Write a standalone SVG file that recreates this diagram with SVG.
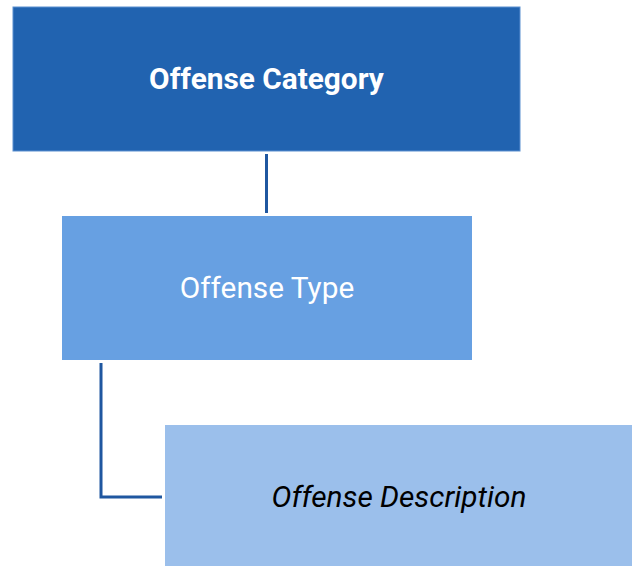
<svg xmlns="http://www.w3.org/2000/svg" width="634" height="566" viewBox="0 0 634 566">
<style>
.lbl{font-family:Roboto,"Liberation Sans",sans-serif;font-size:29.8px;text-anchor:middle;dominant-baseline:central}
.conn{fill:none;stroke:#1f57a0;stroke-width:3}
</style>
<rect width="634" height="566" fill="#ffffff"/>
<g id="connectors">
<line class="conn" x1="266.5" y1="154" x2="266.5" y2="213"/>
<polyline class="conn" points="101,363 101,497 162,497"/>
</g>
<g id="offense-category">
<rect x="13" y="7" width="507" height="144" fill="#2163b0" stroke="#5a8fd0" stroke-width="1"/>
<text class="lbl" x="266.5" y="78" fill="#ffffff" font-weight="bold">Offense Category</text>
</g>
<g id="offense-type">
<rect x="62" y="216" width="410" height="144" fill="#67a0e2"/>
<text class="lbl" x="267" y="287" fill="#ffffff">Offense Type</text>
</g>
<g id="offense-description">
<rect x="165" y="425" width="467" height="141" fill="#9bbfeb"/>
<text class="lbl" x="399" y="496" fill="#000000" font-style="italic" font-size="30.8px">Offense Description</text>
</g>
</svg>
